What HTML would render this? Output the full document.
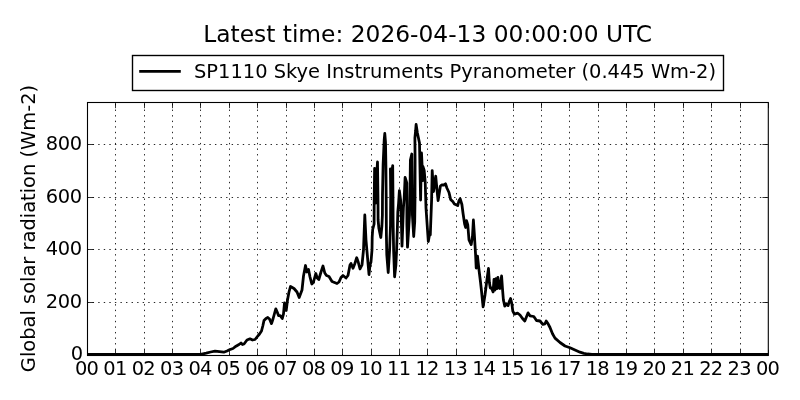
<!DOCTYPE html>
<html><head><meta charset="utf-8"><title>Latest time</title>
<style>
html,body{margin:0;padding:0;background:#fff;}
body{width:800px;height:400px;overflow:hidden;}
svg{display:block;}
text{font-family:"DejaVu Sans","Bitstream Vera Sans","Liberation Sans",sans-serif;fill:#000;}
.t{font-size:19.44px;}
</style></head><body>
<svg width="800" height="400" viewBox="0 0 800 400">
<rect x="0" y="0" width="800" height="400" fill="#fff"/>
<g stroke="#000" stroke-width="0.85" stroke-dasharray="1.39 4.17" fill="none"><line x1="115.5" y1="355.5" x2="115.5" y2="102" stroke-dashoffset="0.1"/><line x1="144.5" y1="355.5" x2="144.5" y2="102" stroke-dashoffset="0.1"/><line x1="172.5" y1="355.5" x2="172.5" y2="102" stroke-dashoffset="0.1"/><line x1="200.5" y1="355.5" x2="200.5" y2="102" stroke-dashoffset="0.1"/><line x1="229.5" y1="355.5" x2="229.5" y2="102" stroke-dashoffset="0.1"/><line x1="257.5" y1="355.5" x2="257.5" y2="102" stroke-dashoffset="0.1"/><line x1="286.5" y1="355.5" x2="286.5" y2="102" stroke-dashoffset="0.1"/><line x1="314.5" y1="355.5" x2="314.5" y2="102" stroke-dashoffset="0.1"/><line x1="342.5" y1="355.5" x2="342.5" y2="102" stroke-dashoffset="0.1"/><line x1="371.5" y1="355.5" x2="371.5" y2="102" stroke-dashoffset="0.1"/><line x1="399.5" y1="355.5" x2="399.5" y2="102" stroke-dashoffset="0.1"/><line x1="427.5" y1="355.5" x2="427.5" y2="102" stroke-dashoffset="0.1"/><line x1="456.5" y1="355.5" x2="456.5" y2="102" stroke-dashoffset="0.1"/><line x1="484.5" y1="355.5" x2="484.5" y2="102" stroke-dashoffset="0.1"/><line x1="513.5" y1="355.5" x2="513.5" y2="102" stroke-dashoffset="0.1"/><line x1="541.5" y1="355.5" x2="541.5" y2="102" stroke-dashoffset="0.1"/><line x1="569.5" y1="355.5" x2="569.5" y2="102" stroke-dashoffset="0.1"/><line x1="598.5" y1="355.5" x2="598.5" y2="102" stroke-dashoffset="0.1"/><line x1="626.5" y1="355.5" x2="626.5" y2="102" stroke-dashoffset="0.1"/><line x1="654.5" y1="355.5" x2="654.5" y2="102" stroke-dashoffset="0.1"/><line x1="683.5" y1="355.5" x2="683.5" y2="102" stroke-dashoffset="0.1"/><line x1="711.5" y1="355.5" x2="711.5" y2="102" stroke-dashoffset="0.1"/><line x1="740.5" y1="355.5" x2="740.5" y2="102" stroke-dashoffset="0.1"/><line x1="87.1" y1="144.5" x2="768" y2="144.5"/><line x1="87.1" y1="197.5" x2="768" y2="197.5"/><line x1="87.1" y1="249.5" x2="768" y2="249.5"/><line x1="87.1" y1="302.5" x2="768" y2="302.5"/></g>
<g stroke="#000" stroke-width="0.8" fill="none"><line x1="87.5" y1="355.5" x2="87.5" y2="349.9"/><line x1="87.5" y1="102.5" x2="87.5" y2="108.2"/><line x1="115.5" y1="355.5" x2="115.5" y2="349.9"/><line x1="115.5" y1="102.5" x2="115.5" y2="108.2"/><line x1="144.5" y1="355.5" x2="144.5" y2="349.9"/><line x1="144.5" y1="102.5" x2="144.5" y2="108.2"/><line x1="172.5" y1="355.5" x2="172.5" y2="349.9"/><line x1="172.5" y1="102.5" x2="172.5" y2="108.2"/><line x1="200.5" y1="355.5" x2="200.5" y2="349.9"/><line x1="200.5" y1="102.5" x2="200.5" y2="108.2"/><line x1="229.5" y1="355.5" x2="229.5" y2="349.9"/><line x1="229.5" y1="102.5" x2="229.5" y2="108.2"/><line x1="257.5" y1="355.5" x2="257.5" y2="349.9"/><line x1="257.5" y1="102.5" x2="257.5" y2="108.2"/><line x1="286.5" y1="355.5" x2="286.5" y2="349.9"/><line x1="286.5" y1="102.5" x2="286.5" y2="108.2"/><line x1="314.5" y1="355.5" x2="314.5" y2="349.9"/><line x1="314.5" y1="102.5" x2="314.5" y2="108.2"/><line x1="342.5" y1="355.5" x2="342.5" y2="349.9"/><line x1="342.5" y1="102.5" x2="342.5" y2="108.2"/><line x1="371.5" y1="355.5" x2="371.5" y2="349.9"/><line x1="371.5" y1="102.5" x2="371.5" y2="108.2"/><line x1="399.5" y1="355.5" x2="399.5" y2="349.9"/><line x1="399.5" y1="102.5" x2="399.5" y2="108.2"/><line x1="427.5" y1="355.5" x2="427.5" y2="349.9"/><line x1="427.5" y1="102.5" x2="427.5" y2="108.2"/><line x1="456.5" y1="355.5" x2="456.5" y2="349.9"/><line x1="456.5" y1="102.5" x2="456.5" y2="108.2"/><line x1="484.5" y1="355.5" x2="484.5" y2="349.9"/><line x1="484.5" y1="102.5" x2="484.5" y2="108.2"/><line x1="513.5" y1="355.5" x2="513.5" y2="349.9"/><line x1="513.5" y1="102.5" x2="513.5" y2="108.2"/><line x1="541.5" y1="355.5" x2="541.5" y2="349.9"/><line x1="541.5" y1="102.5" x2="541.5" y2="108.2"/><line x1="569.5" y1="355.5" x2="569.5" y2="349.9"/><line x1="569.5" y1="102.5" x2="569.5" y2="108.2"/><line x1="598.5" y1="355.5" x2="598.5" y2="349.9"/><line x1="598.5" y1="102.5" x2="598.5" y2="108.2"/><line x1="626.5" y1="355.5" x2="626.5" y2="349.9"/><line x1="626.5" y1="102.5" x2="626.5" y2="108.2"/><line x1="654.5" y1="355.5" x2="654.5" y2="349.9"/><line x1="654.5" y1="102.5" x2="654.5" y2="108.2"/><line x1="683.5" y1="355.5" x2="683.5" y2="349.9"/><line x1="683.5" y1="102.5" x2="683.5" y2="108.2"/><line x1="711.5" y1="355.5" x2="711.5" y2="349.9"/><line x1="711.5" y1="102.5" x2="711.5" y2="108.2"/><line x1="740.5" y1="355.5" x2="740.5" y2="349.9"/><line x1="740.5" y1="102.5" x2="740.5" y2="108.2"/><line x1="768.5" y1="355.5" x2="768.5" y2="349.9"/><line x1="768.5" y1="102.5" x2="768.5" y2="108.2"/><line x1="88" y1="354.5" x2="93.56" y2="354.5"/><line x1="768" y1="354.5" x2="762.44" y2="354.5"/><line x1="88" y1="144.5" x2="93.56" y2="144.5"/><line x1="768" y1="144.5" x2="762.44" y2="144.5"/><line x1="88" y1="197.5" x2="93.56" y2="197.5"/><line x1="768" y1="197.5" x2="762.44" y2="197.5"/><line x1="88" y1="249.5" x2="93.56" y2="249.5"/><line x1="768" y1="249.5" x2="762.44" y2="249.5"/><line x1="88" y1="302.5" x2="93.56" y2="302.5"/><line x1="768" y1="302.5" x2="762.44" y2="302.5"/></g>
<path d="M88.0 354.4 L200.0 354.4 L203.0 353.8 L206.2 353.1 L210.6 352.0 L215.0 351.2 L219.4 351.7 L223.8 352.2 L227.0 351.0 L229.5 349.8 L233.0 348.5 L236.0 346.2 L239.0 344.5 L241.0 343.0 L242.5 344.5 L244.0 344.0 L247.0 340.0 L250.0 338.8 L252.5 340.0 L255.0 339.5 L257.0 337.0 L259.5 334.0 L261.5 331.0 L262.8 326.0 L264.0 320.5 L266.0 318.5 L267.8 317.5 L269.5 319.0 L271.5 323.6 L273.0 319.0 L274.5 313.5 L275.8 308.8 L277.2 312.0 L278.5 315.5 L280.2 315.6 L282.3 318.5 L283.5 313.8 L284.5 303.0 L285.3 306.0 L286.2 310.5 L287.5 300.0 L289.0 292.0 L290.5 286.5 L294.0 288.5 L297.0 292.0 L299.2 297.5 L302.0 290.0 L303.5 276.0 L305.5 265.5 L306.8 272.0 L308.5 269.5 L310.0 277.0 L311.8 284.0 L313.5 282.0 L315.8 273.5 L317.2 278.0 L318.8 279.5 L321.0 272.0 L323.0 266.0 L324.8 273.0 L326.5 275.5 L329.0 276.5 L332.0 281.5 L334.5 282.5 L337.0 283.5 L339.0 282.0 L341.0 277.5 L343.0 275.5 L346.0 278.0 L348.0 275.5 L350.0 265.0 L351.0 263.5 L353.0 268.3 L354.7 264.0 L356.7 257.7 L358.2 262.0 L360.0 269.0 L362.0 265.0 L363.5 250.0 L364.8 215.0 L366.0 240.0 L369.0 274.5 L370.0 265.0 L371.0 262.0 L372.0 250.0 L372.2 237.0 L372.7 229.5 L374.1 224.0 L374.2 200.0 L374.6 168.5 L375.7 203.0 L377.0 170.0 L377.5 162.0 L378.0 200.0 L378.1 220.0 L378.9 228.5 L380.8 237.5 L381.9 226.0 L382.4 215.0 L382.5 195.0 L383.1 165.0 L384.2 140.0 L384.8 133.5 L385.5 142.0 L385.9 165.0 L386.2 200.0 L386.4 235.0 L386.8 255.0 L388.2 272.5 L389.6 250.0 L390.5 225.0 L390.7 195.0 L390.4 168.8 L391.4 175.0 L392.7 165.6 L393.0 200.0 L393.1 220.0 L393.6 250.0 L394.6 276.8 L395.9 265.0 L396.6 250.0 L397.3 230.0 L397.8 212.0 L398.6 203.0 L399.4 190.6 L400.6 200.0 L401.2 215.0 L402.0 246.2 L402.8 225.0 L403.4 208.0 L404.2 198.0 L405.1 177.5 L406.8 183.0 L406.9 225.0 L407.5 247.2 L408.3 235.0 L409.5 215.0 L410.1 185.0 L410.4 160.0 L411.8 154.0 L412.2 185.0 L412.4 215.0 L413.7 236.5 L414.7 222.0 L415.0 200.0 L415.1 160.0 L414.9 138.0 L415.6 131.0 L416.1 124.5 L417.4 133.0 L419.5 143.0 L420.6 200.0 L421.5 153.0 L422.8 180.6 L422.9 166.5 L424.2 170.5 L425.2 182.0 L426.0 208.0 L428.3 241.5 L429.8 233.0 L430.3 235.0 L431.6 200.0 L432.2 170.6 L433.5 191.5 L435.7 176.2 L437.0 190.0 L438.1 200.6 L440.4 186.0 L441.9 184.8 L443.8 185.0 L445.5 183.8 L446.9 188.0 L449.0 192.5 L450.6 199.4 L452.8 201.6 L454.4 204.0 L457.7 205.6 L459.0 200.5 L460.2 198.8 L461.9 204.5 L463.1 213.8 L464.6 223.8 L465.6 227.5 L466.5 220.6 L467.8 225.0 L469.0 240.0 L471.2 244.6 L472.5 236.0 L473.4 220.0 L474.4 235.0 L475.6 255.0 L476.2 268.0 L477.5 256.2 L479.0 270.0 L480.5 282.0 L481.5 291.0 L483.1 306.9 L485.0 295.0 L486.9 280.0 L488.5 268.5 L489.4 282.5 L490.3 288.0 L491.5 288.0 L493.1 291.9 L494.0 279.4 L495.0 290.0 L495.9 278.7 L496.9 288.5 L497.9 277.5 L499.0 288.0 L500.0 288.5 L501.6 276.0 L502.5 288.8 L503.4 300.0 L504.8 306.2 L506.5 303.8 L508.1 305.6 L509.4 301.2 L510.6 298.5 L511.9 304.0 L512.8 311.2 L514.4 314.2 L517.5 313.1 L520.0 315.0 L522.5 318.5 L524.8 321.0 L526.2 317.5 L528.1 312.9 L530.0 315.8 L533.8 316.5 L536.5 320.5 L540.0 321.0 L542.8 324.4 L545.0 323.8 L546.2 321.0 L548.1 323.8 L550.0 327.5 L552.5 333.8 L555.0 338.1 L560.0 342.5 L565.0 346.0 L570.0 347.8 L575.0 350.0 L580.0 352.2 L583.8 353.4 L587.5 354.0 L592.0 354.4 L768.0 354.4" fill="none" stroke="#000" stroke-width="2.78" stroke-linejoin="round" stroke-linecap="butt"/>
<rect x="87.5" y="102.5" width="680.8" height="253" fill="none" stroke="#000" stroke-width="1.1"/>
<text class="t" x="86.90" y="375" text-anchor="middle" textLength="24" lengthAdjust="spacing">00</text><text class="t" x="115.28" y="375" text-anchor="middle" textLength="24" lengthAdjust="spacing">01</text><text class="t" x="143.65" y="375" text-anchor="middle" textLength="24" lengthAdjust="spacing">02</text><text class="t" x="172.03" y="375" text-anchor="middle" textLength="24" lengthAdjust="spacing">03</text><text class="t" x="200.40" y="375" text-anchor="middle" textLength="24" lengthAdjust="spacing">04</text><text class="t" x="228.78" y="375" text-anchor="middle" textLength="24" lengthAdjust="spacing">05</text><text class="t" x="257.15" y="375" text-anchor="middle" textLength="24" lengthAdjust="spacing">06</text><text class="t" x="285.52" y="375" text-anchor="middle" textLength="24" lengthAdjust="spacing">07</text><text class="t" x="313.90" y="375" text-anchor="middle" textLength="24" lengthAdjust="spacing">08</text><text class="t" x="342.27" y="375" text-anchor="middle" textLength="24" lengthAdjust="spacing">09</text><text class="t" x="370.65" y="375" text-anchor="middle" textLength="24" lengthAdjust="spacing">10</text><text class="t" x="399.02" y="375" text-anchor="middle" textLength="24" lengthAdjust="spacing">11</text><text class="t" x="427.40" y="375" text-anchor="middle" textLength="24" lengthAdjust="spacing">12</text><text class="t" x="455.77" y="375" text-anchor="middle" textLength="24" lengthAdjust="spacing">13</text><text class="t" x="484.15" y="375" text-anchor="middle" textLength="24" lengthAdjust="spacing">14</text><text class="t" x="512.52" y="375" text-anchor="middle" textLength="24" lengthAdjust="spacing">15</text><text class="t" x="540.90" y="375" text-anchor="middle" textLength="24" lengthAdjust="spacing">16</text><text class="t" x="569.27" y="375" text-anchor="middle" textLength="24" lengthAdjust="spacing">17</text><text class="t" x="597.65" y="375" text-anchor="middle" textLength="24" lengthAdjust="spacing">18</text><text class="t" x="626.02" y="375" text-anchor="middle" textLength="24" lengthAdjust="spacing">19</text><text class="t" x="654.40" y="375" text-anchor="middle" textLength="24" lengthAdjust="spacing">20</text><text class="t" x="682.77" y="375" text-anchor="middle" textLength="24" lengthAdjust="spacing">21</text><text class="t" x="711.15" y="375" text-anchor="middle" textLength="24" lengthAdjust="spacing">22</text><text class="t" x="739.52" y="375" text-anchor="middle" textLength="24" lengthAdjust="spacing">23</text><text class="t" x="767.90" y="375" text-anchor="middle" textLength="24" lengthAdjust="spacing">00</text>
<text class="t" x="83.2" y="359.80" text-anchor="end">0</text><text class="t" x="82.2" y="307.80" text-anchor="end" textLength="36.4" lengthAdjust="spacing">200</text><text class="t" x="82.2" y="254.80" text-anchor="end" textLength="36.4" lengthAdjust="spacing">400</text><text class="t" x="82.2" y="202.80" text-anchor="end" textLength="36.4" lengthAdjust="spacing">600</text><text class="t" x="82.2" y="149.80" text-anchor="end" textLength="36.4" lengthAdjust="spacing">800</text>
<text class="t" transform="translate(34.5 228.5) rotate(-90)" text-anchor="middle">Global solar radiation (Wm-2)</text>
<text x="427.7" y="42" font-size="23.33px" text-anchor="middle">Latest time: 2026-04-13 00:00:00 UTC</text>
<rect x="132.5" y="55.5" width="591" height="35" fill="#fff" stroke="#000" stroke-width="1.39"/>
<line x1="139.2" y1="71.4" x2="180.8" y2="71.4" stroke="#000" stroke-width="2.78"/>
<text class="t" x="194" y="78">SP1110 Skye Instruments Pyranometer (0.445 Wm-2)</text>
</svg>
</body></html>
